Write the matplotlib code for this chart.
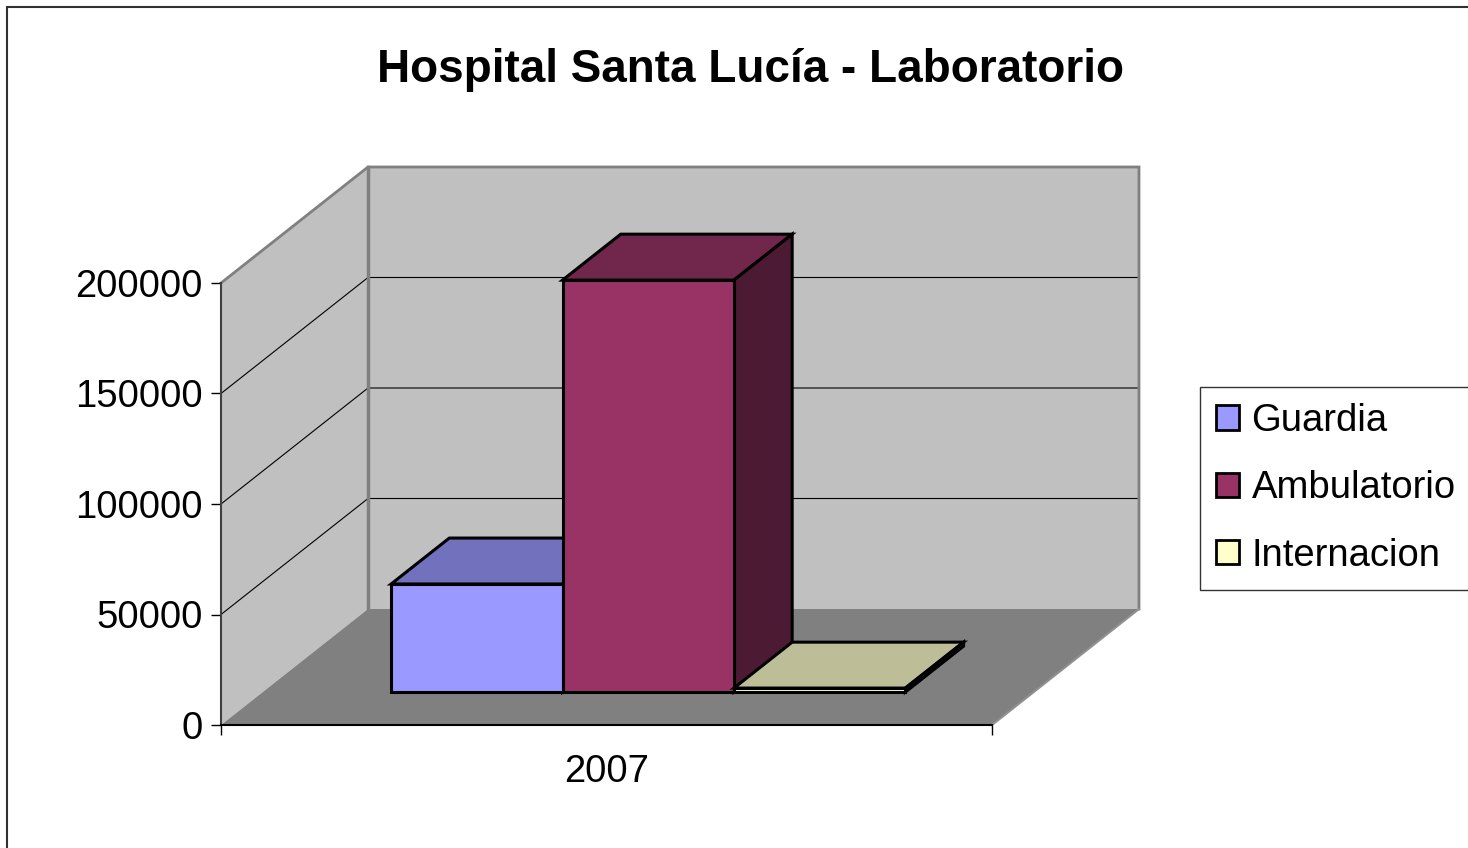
import matplotlib
matplotlib.use('Agg')
import matplotlib.pyplot as plt
from matplotlib.colors import to_rgb
from matplotlib.patches import Patch, Rectangle

categories = ['2007']
series = ['Guardia', 'Ambulatorio', 'Internacion']
values = [48900, 186400, 1800]
front_colors = ['#9999FF', '#993366', '#FFFFCC']
y_ticks = [0, 50000, 100000, 150000, 200000]

plt.rcParams['font.family'] = ['Liberation Sans', 'DejaVu Sans']

W, H = 1468, 848
fig = plt.figure(figsize=(W / 100, H / 100), dpi=100)
ax = fig.add_axes([221 / W, (H - 725) / H, 771 / W, 442 / H])
ymax = y_ticks[-1]
ax.set_xlim(0, 1)
ax.set_ylim(0, ymax)
ax.patch.set_visible(False)

# oblique depth offset, in data units (full depth of the floor)
DX = 147 / 771
DY = 116 / 442 * ymax


def proj(pts):
    xs = [x + z * DX for x, y, z in pts]
    ys = [y + z * DY for x, y, z in pts]
    return xs, ys


def face(pts, color, z, ec='none', lw=0):
    xs, ys = proj(pts)
    ax.fill(xs, ys, facecolor=color, edgecolor=ec, linewidth=lw,
            joinstyle='miter', clip_on=False, zorder=z)


def line(pts, color, lw, z):
    xs, ys = proj(pts)
    ax.plot(xs, ys, color=color, lw=lw, clip_on=False, zorder=z,
            solid_joinstyle='miter')


# walls and floor
face([(0, 0, 0), (0, ymax, 0), (0, ymax, 1), (0, 0, 1)], '#C0C0C0', 0.5)
face([(0, 0, 1), (0, ymax, 1), (1, ymax, 1), (1, 0, 1)], '#C0C0C0', 0.5)
face([(0, 0, 0), (1, 0, 0), (1, 0, 1), (0, 0, 1)], '#808080', 0.5)

for v in y_ticks[1:-1]:
    line([(0, v, 0), (0, v, 1), (1, v, 1)], 'black', 0.8, 0.6)

line([(0, ymax, 0), (0, ymax, 1), (1, ymax, 1), (1, 0, 1)], '#808080', 2, 0.7)
line([(0, 0, 1), (0, ymax, 1)], '#808080', 2.5, 0.7)
line([(1, 0, 0), (1, 0, 1)], '#909090', 1.5, 0.7)

# bars
z0, z1 = 0.284, 0.68
bw = 0.667 / len(series)
for i, (val, col) in enumerate(zip(values, front_colors)):
    x0 = 0.5 - 1.5 * bw + i * bw
    x1 = x0 + bw
    rgb = to_rgb(col)
    top = tuple(c * 0.74 for c in rgb)
    side = tuple(c * 0.5 for c in rgb)
    zb = 1 + i
    face([(x0, val, z0), (x1, val, z0), (x1, val, z1), (x0, val, z1)], top, zb, 'black', 2.2)
    face([(x1, 0, z0), (x1, val, z0), (x1, val, z1), (x1, 0, z1)], side, zb, 'black', 2.2)
    face([(x0, 0, z0), (x1, 0, z0), (x1, val, z0), (x0, val, z0)], col, zb, 'black', 2.2)

# axes
for s in ['top', 'right']:
    ax.spines[s].set_visible(False)
ax.spines['left'].set_color('#404040')
ax.spines['left'].set_linewidth(1.5)
ax.spines['bottom'].set_color('black')
ax.spines['bottom'].set_linewidth(1.5)
ax.set_yticks(y_ticks)
ax.set_yticklabels([str(v) for v in y_ticks])
ax.tick_params(axis='y', length=7, width=1, pad=6, labelsize=27.5, colors='black')
ax.set_xticks([0.5])
ax.set_xticklabels(categories)
ax.tick_params(axis='x', which='major', length=0, pad=21, labelsize=27.5)
ax.set_xticks([0, 1], minor=True)
ax.tick_params(axis='x', which='minor', length=7, width=1, direction='out')

fig.text(750 / W, 1 - 70 / H, 'Hospital Santa Lucía - Laboratorio',
         ha='center', va='center', fontsize=33, fontweight='bold')

handles = [Patch(facecolor=c, edgecolor='black', linewidth=2) for c in front_colors]
leg = fig.legend(handles, series, loc='upper left',
                 bbox_to_anchor=(1200 / W, 1 - 387 / H), fontsize=27.5,
                 frameon=True, fancybox=False, handlelength=0.6, handleheight=0.6,
                 handletextpad=0.33, labelspacing=0.82, borderpad=0.42,
                 borderaxespad=0)
leg.get_frame().set_edgecolor('black')
leg.get_frame().set_linewidth(1)

# chart area border
fig.add_artist(Rectangle((7 / W, -0.5), 2, 1.5 - 7 / H, transform=fig.transFigure,
                         fill=False, edgecolor='#303030', linewidth=1.5))

fig.savefig('out.png', dpi=100)
